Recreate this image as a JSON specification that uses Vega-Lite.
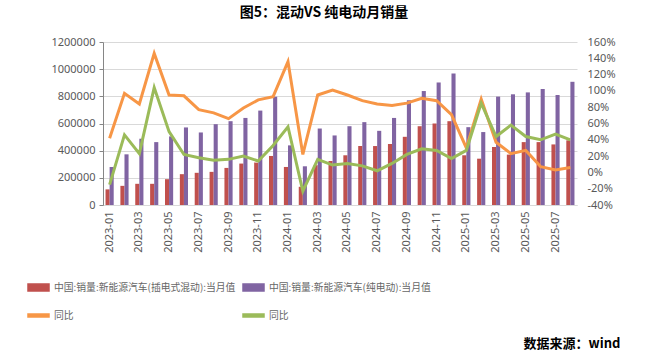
{
  "$schema": "https://vega.github.io/schema/vega-lite/v6.json",
  "autosize": "none",
  "width": 474,
  "height": 163,
  "padding": {"left": 103, "top": 42, "right": 71, "bottom": 152},
  "background": "white",
  "title": {"text": "图5：混动VS 纯电动月销量", "fontSize": 14, "fontWeight": "bold", "font": "Noto Sans CJK SC", "color": "#000000", "anchor": "middle", "frame": "group", "dx": -16, "offset": 16},
  "config": {
    "font": "Noto Sans CJK SC",
    "view": {"stroke": null},
    "axis": {"labelColor": "#595959", "labelFontSize": 11, "labelFont": "Noto Sans", "titleFont": "Noto Sans CJK SC"}
  },
  "data": {"values": [
    {"month": "2023-01", "插电式混动": 115000, "纯电动": 280000, "插电式混动同比": 42, "纯电动同比": -15},
    {"month": "2023-02", "插电式混动": 141000, "纯电动": 373000, "插电式混动同比": 97, "纯电动同比": 46},
    {"month": "2023-03", "插电式混动": 156000, "纯电动": 488000, "插电式混动同比": 84, "纯电动同比": 23},
    {"month": "2023-04", "插电式混动": 156000, "纯电动": 463000, "插电式混动同比": 146, "纯电动同比": 104},
    {"month": "2023-05", "插电式混动": 190000, "纯电动": 505000, "插电式混动同比": 95, "纯电动同比": 50},
    {"month": "2023-06", "插电式混动": 227000, "纯电动": 571000, "插电式混动同比": 94, "纯电动同比": 22},
    {"month": "2023-07", "插电式混动": 237000, "纯电动": 534000, "插电式混动同比": 77, "纯电动同比": 18},
    {"month": "2023-08", "插电式混动": 244000, "纯电动": 595000, "插电式混动同比": 73, "纯电动同比": 15},
    {"month": "2023-09", "插电式混动": 273000, "纯电动": 617000, "插电式混动同比": 66, "纯电动同比": 16},
    {"month": "2023-10", "插电式混动": 305000, "纯电动": 641000, "插电式混动同比": 79, "纯电动同比": 20},
    {"month": "2023-11", "插电式混动": 312000, "纯电动": 695000, "插电式混动同比": 89, "纯电动同比": 14},
    {"month": "2023-12", "插电式混动": 361000, "纯电动": 797000, "插电式混动同比": 93, "纯电动同比": 33},
    {"month": "2024-01", "插电式混动": 280000, "纯电动": 439000, "插电式混动同比": 136, "纯电动同比": 56},
    {"month": "2024-02", "插电式混动": 134000, "纯电动": 285000, "插电式混动同比": 22, "纯电动同比": -23},
    {"month": "2024-03", "插电式混动": 293000, "纯电动": 563000, "插电式混动同比": 95, "纯电动同比": 16},
    {"month": "2024-04", "插电式混动": 324000, "纯电动": 512000, "插电式混动同比": 101, "纯电动同比": 9},
    {"month": "2024-05", "插电式混动": 366000, "纯电动": 580000, "插电式混动同比": 95, "纯电动同比": 11},
    {"month": "2024-06", "插电式混动": 434000, "纯电动": 610000, "插电式混动同比": 88, "纯电动同比": 8},
    {"month": "2024-07", "插电式混动": 434000, "纯电动": 546000, "插电式混动同比": 84, "纯电动同比": 2},
    {"month": "2024-08", "插电式混动": 449000, "纯电动": 641000, "插电式混动同比": 82, "纯电动同比": 11},
    {"month": "2024-09", "插电式混动": 502000, "纯电动": 771000, "插电式混动同比": 85, "纯电动同比": 22},
    {"month": "2024-10", "插电式混动": 580000, "纯电动": 839000, "插电式混动同比": 91, "纯电动同比": 29},
    {"month": "2024-11", "插电式混动": 600000, "纯电动": 902000, "插电式混动同比": 88, "纯电动同比": 27},
    {"month": "2024-12", "插电式混动": 617000, "纯电动": 968000, "插电式混动同比": 71, "纯电动同比": 17},
    {"month": "2025-01", "插电式混动": 366000, "纯电动": 573000, "插电式混动同比": 30, "纯电动同比": 27},
    {"month": "2025-02", "插电式混动": 341000, "纯电动": 537000, "插电式混动同比": 90, "纯电动同比": 85},
    {"month": "2025-03", "插电式混动": 427000, "纯电动": 798000, "插电式混动同比": 37, "纯电动同比": 44},
    {"month": "2025-04", "插电式混动": 371000, "纯电动": 815000, "插电式混动同比": 23, "纯电动同比": 58},
    {"month": "2025-05", "插电式混动": 463000, "纯电动": 829000, "插电式混动同比": 27, "纯电动同比": 44},
    {"month": "2025-06", "插电式混动": 463000, "纯电动": 854000, "插电式混动同比": 7, "纯电动同比": 40},
    {"month": "2025-07", "插电式混动": 446000, "纯电动": 810000, "插电式混动同比": 3, "纯电动同比": 47},
    {"month": "2025-08", "插电式混动": 476000, "纯电动": 907000, "插电式混动同比": 6, "纯电动同比": 40}
  ]},
  "encoding": {
    "x": {
      "field": "month", "type": "ordinal",
      "scale": {"paddingInner": 0.45, "paddingOuter": 0.17},
      "axis": {
        "values": ["2023-01","2023-03","2023-05","2023-07","2023-09","2023-11","2024-01","2024-03","2024-05","2024-07","2024-09","2024-11","2025-01","2025-03","2025-05","2025-07"],
        "labelAngle": -90, "labelPadding": 6, "ticks": false, "domainColor": "#D9D9D9", "grid": false,
        "title": "数据来源：wind", "titleX": 517, "titleY": 138, "titleAnchor": "end", "titleAlign": "right", "titleBaseline": "middle",
        "titleFontSize": 13, "titleFontWeight": "bold", "titleColor": "#000000", "titleFont": "Noto Sans CJK SC"
      }
    },
    "color": {
      "field": "series", "type": "nominal",
      "scale": {"domain": ["插电式混动","纯电动","插电式混动同比","纯电动同比"], "range": ["#C0504D","#8064A2","#F79646","#9BBB59"]},
      "legend": {
        "title": null, "orient": "none", "legendX": -76, "legendY": 234, "direction": "horizontal", "columns": 2,
        "columnPadding": 4, "rowPadding": 10, "padding": 0, "symbolSize": 441, "labelFontSize": 9.8, "labelColor": "#666666", "labelLimit": 400, "labelOffset": 4,
        "labelFont": "Noto Sans CJK SC",
        "labelExpr": "datum.label == '插电式混动' ? '中国:销量:新能源汽车(插电式混动):当月值' : datum.label == '纯电动' ? '中国:销量:新能源汽车(纯电动):当月值' : '同比'",
        "encode": {"symbols": {"update": {
          "shape": {"signal": "datum.index < 2 ? 'M-1,-0.33H1V0.33H-1Z' : 'M-1,-0.14H1V0.14H-1Z'"},
          "fill": {"signal": "scale('color', datum.value)"},
          "stroke": {"value": "transparent"},
          "opacity": {"value": 1},
          "fillOpacity": {"value": 1}
        }}}
      }
    }
  },
  "layer": [
    {
      "transform": [{"fold": ["插电式混动","纯电动"], "as": ["series","value"]}],
      "mark": {"type": "bar"},
      "encoding": {
        "xOffset": {"field": "series", "type": "nominal", "scale": {"domain": ["插电式混动","纯电动"], "paddingInner": 0}},
        "y": {"field": "value", "type": "quantitative",
          "scale": {"domain": [0, 1200000]},
          "axis": {"title": null, "values": [0,200000,400000,600000,800000,1000000,1200000], "format": "d", "grid": true, "gridColor": "#D9D9D9", "domain": true, "domainColor": "#868686", "ticks": true, "tickColor": "#868686", "tickSize": 4, "labelPadding": 4}
        }
      }
    },
    {
      "transform": [{"fold": ["插电式混动同比","纯电动同比"], "as": ["series","yoy"]}],
      "mark": {"type": "line", "strokeWidth": 3},
      "encoding": {
        "y": {"field": "yoy", "type": "quantitative",
          "scale": {"domain": [-40, 160]},
          "axis": {"title": null, "orient": "right", "values": [-40,-20,0,20,40,60,80,100,120,140,160], "labelExpr": "datum.value + '%'", "grid": false, "domain": false, "ticks": false, "labelPadding": 10}
        }
      }
    }
  ],
  "resolve": {"scale": {"y": "independent"}}
}
